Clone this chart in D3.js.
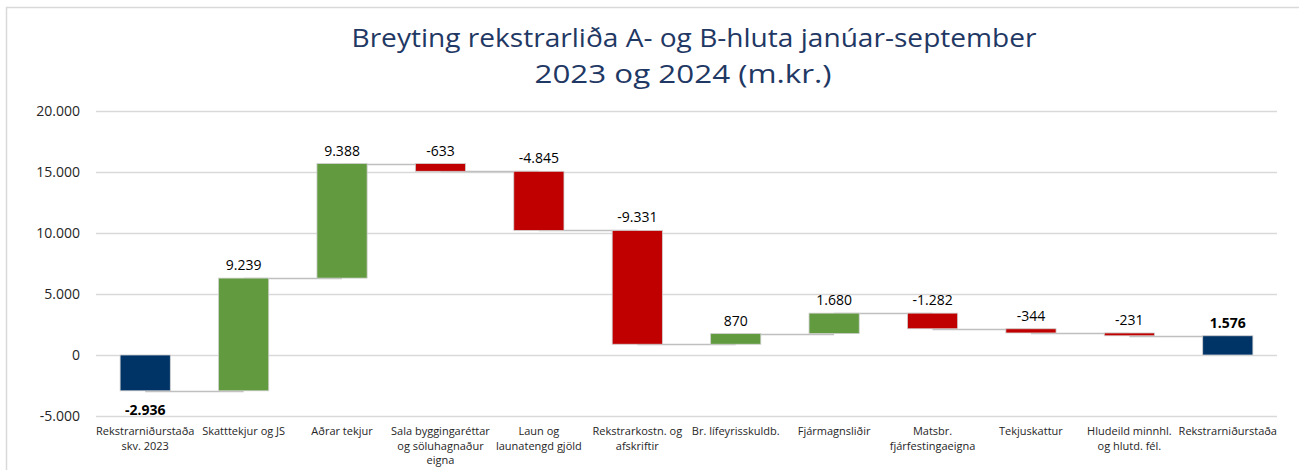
<!DOCTYPE html>
<html>
<head>
    <meta charset="utf-8">
    <title>Breyting rekstrarliða</title>
    <script src="https://d3js.org/d3.v7.min.js"></script>
    <style>
      body { margin: 0; background: #fff; }
      text { font-family: "Open Sans", "Noto Sans", sans-serif; }
    </style>
</head>
<body>
<div id="chart"></div>
<script>
    // flokkar og breytingar (m.kr.)
    const categories = [
      "Rekstrarniðurstaða\nskv. 2023", "Skatttekjur og JS", "Aðrar tekjur",
      "Sala byggingaréttar\nog söluhagnaður\neigna", "Laun og\nlaunatengd gjöld",
      "Rekstrarkostn. og\nafskriftir", "Br. lífeyrisskuldb.", "Fjármagnsliðir",
      "Matsbr.\nfjárfestingaeigna", "Tekjuskattur", "Hludeild minnhl.\nog hlutd. fél.",
      "Rekstrarniðurstaða"
    ];
    const values = [-2936, 9239, 9388, -633, -4845, -9331, 870, 1680, -1282, -344, -231, 1576];
    const isTotal = [true, false, false, false, false, false, false, false, false, false, false, true];
    const yTicks = [-5000, 0, 5000, 10000, 15000, 20000];
    const titleLines = ["Breyting rekstrarliða A- og B-hluta janúar-september", "2023 og 2024 (m.kr.)"];

    const W = 1299, H = 470;
    const margin = {top: 111, right: 22, bottom: 54, left: 96};
    const w = W - margin.left - margin.right;
    const h = H - margin.top - margin.bottom;

    const is = d3.formatLocale({decimal: ",", thousands: ".", grouping: [3], currency: ["", ""], minus: "-"});
    const fmt = is.format(",d");

    // reikna upphaf og enda hverrar súlu
    let run = 0;
    const bars = values.map((v, i) => {
      let start, end;
      if (isTotal[i]) { start = 0; end = v; run = v; }
      else { start = run; end = run + v; run = end; }
      return {name: categories[i], value: v, start: start, end: end, total: isTotal[i], i: i};
    });

    const svg = d3.select("#chart").append("svg")
        .attr("width", W).attr("height", H);

    // rammi
    svg.append("path")
        .attr("d", "M6.5," + H + " V7.5 H" + W)
        .attr("fill", "none").attr("stroke", "#d9d9d9").attr("stroke-width", 1.5);

    // titill (Calibri-líkur, teygður í breidd)
    const titlePos = [{cx: 694, y: 47, len: 685}, {cx: 683, y: 83, len: 297}];
    svg.append("g").selectAll("text")
        .data(titleLines).enter().append("text")
          .attr("x", (d, i) => titlePos[i].cx)
          .attr("y", (d, i) => titlePos[i].y)
          .attr("text-anchor", "middle")
          .attr("font-size", "26px")
          .attr("textLength", (d, i) => titlePos[i].len)
          .attr("lengthAdjust", "spacingAndGlyphs")
          .attr("fill", "#1f3864")
          .text(d => d);

    const g = svg.append("g")
        .attr("transform", "translate(" + margin.left + "," + margin.top + ")");

    const x = d3.scaleBand().domain(d3.range(categories.length)).range([0, w]).paddingInner(0.49).paddingOuter(0.245);
    const y = d3.scaleLinear().domain([-5000, 20000]).range([h, 0]);

    const yAxis = d3.axisLeft(y).tickValues(yTicks).tickSize(-w).tickFormat(d => d === 0 ? "0" : fmt(d));
    g.append("g").call(yAxis)
      .call(a => a.select(".domain").remove())
      .call(a => a.selectAll("line").attr("stroke", "#d9d9d9").attr("stroke-width", 1.3))
      .call(a => a.selectAll("text").attr("x", -16).attr("font-size", "14px").attr("fill", "#262626"));

    // tengilínur
    g.append("g").selectAll("line")
        .data(bars.slice(0, -1)).enter().append("line")
          .attr("x1", d => x(d.i) + x.bandwidth() / 2)
          .attr("x2", d => x(d.i + 1) + x.bandwidth() / 2)
          .attr("y1", d => Math.round(y(d.end)) + 0.5)
          .attr("y2", d => Math.round(y(d.end)) + 0.5)
          .attr("stroke", "#bfbfbf").attr("stroke-width", 1.5);

    const color = d => d.total ? "#003366" : (d.value >= 0 ? "#629b3f" : "#c00000");

    g.append("g").selectAll("rect")
        .data(bars).enter().append("rect")
          .attr("x", d => x(d.i))
          .attr("width", x.bandwidth())
          .attr("y", d => y(Math.max(d.start, d.end)))
          .attr("height", d => Math.max(2, Math.abs(y(d.start) - y(d.end))))
          .attr("fill", color)
          .attr("stroke", "#d0d0d0").attr("stroke-width", 0.8);

    // gildi
    g.append("g").selectAll("text")
        .data(bars).enter().append("text")
          .attr("x", d => x(d.i) + x.bandwidth() / 2)
          .attr("y", d => (d.total && d.value < 0) ? y(Math.min(d.start, d.end)) + 24 : y(Math.max(d.start, d.end)) - 8)
          .attr("text-anchor", "middle")
          .attr("font-size", "14px")
          .attr("font-weight", d => d.total ? "bold" : "normal")
          .attr("fill", "#000")
          .text(d => fmt(d.value));

    // flokkaheiti
    const cat = g.append("g").selectAll("text")
        .data(bars).enter().append("text")
          .attr("x", d => x(d.i) + x.bandwidth() / 2)
          .attr("y", h + 19)
          .attr("text-anchor", "middle")
          .attr("font-size", "11px")
          .attr("fill", "#262626");
    cat.selectAll("tspan")
        .data(d => d.name.split("\n").map(t => ({t: t, cx: x(d.i) + x.bandwidth() / 2})))
        .enter().append("tspan")
          .attr("x", d => d.cx)
          .attr("dy", (d, i) => i === 0 ? 0 : 14.5)
          .text(d => d.t);
</script>
</body>
</html>
